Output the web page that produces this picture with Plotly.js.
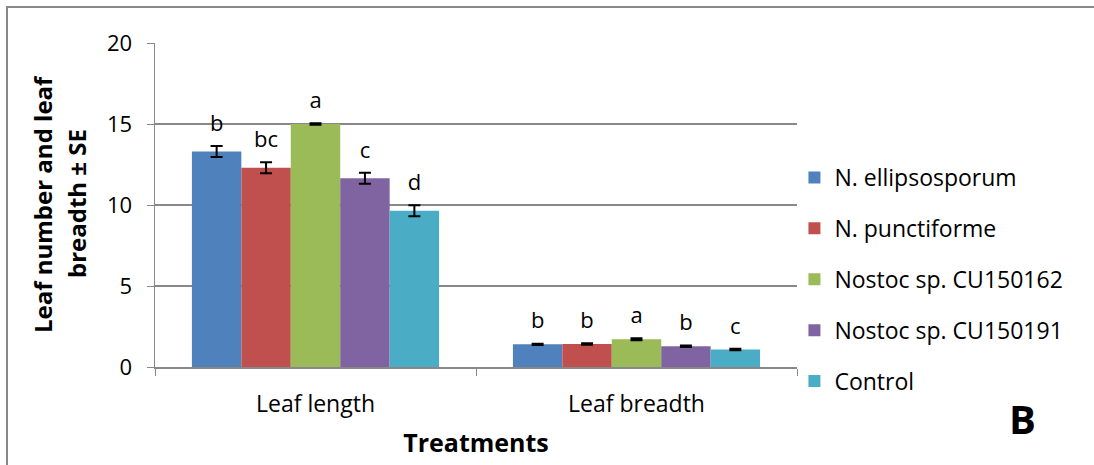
<!DOCTYPE html>
<html>
<head>
<meta charset="utf-8">
<script src="https://cdn.plot.ly/plotly-3.0.1.min.js"></script>
<style>html,body{margin:0;padding:0;background:#fff;}#chart{width:1094px;height:465px;}</style>
</head>
<body>
<div id="chart"></div>
<script>
const categories = ["Leaf length", "Leaf breadth"];
const seriesNames = ["N. ellipsosporum", "N. punctiforme", "Nostoc sp. CU150162", "Nostoc sp. CU150191", "Control"];
const ellipsosporum = [13.3, 1.40];
const punctiforme = [12.3, 1.42];
const cu150162 = [15.0, 1.71];
const cu150191 = [11.65, 1.28];
const control = [9.65, 1.08];
const seEllipsosporum = [0.34, 0.04];
const sePunctiforme = [0.34, 0.04];
const seCu150162 = [0.05, 0.06];
const seCu150191 = [0.34, 0.04];
const seControl = [0.34, 0.04];
const lettersEllipsosporum = ["b", "b"];
const lettersPunctiforme = ["bc", "b"];
const lettersCu150162 = ["a", "a"];
const lettersCu150191 = ["c", "b"];
const lettersControl = ["d", "c"];
const yTitleLines = ["Leaf number and leaf", "breadth ± SE"];
const colors = ["#4f81bd", "#c0504d", "#9bbb59", "#8064a2", "#4bacc6"];

const values = [ellipsosporum, punctiforme, cu150162, cu150191, control];
const ses = [seEllipsosporum, sePunctiforme, seCu150162, seCu150191, seControl];
const letters = [lettersEllipsosporum, lettersPunctiforme, lettersCu150162, lettersCu150191, lettersControl];

const FONT = "Open Sans, Noto Sans, sans-serif";
const traces = [];
values.forEach((v, i) => {
  traces.push({
    type: "bar", name: seriesNames[i], x: categories, y: v,
    offsetgroup: String(i), legendgroup: String(i),
    marker: {color: colors[i]},
    error_y: {type: "data", array: ses[i], visible: true, color: "#000", thickness: 2, width: 6},
    hoverinfo: "none"
  });
});
values.forEach((v, i) => {
  traces.push({
    type: "scatter", mode: "markers+text", x: categories,
    y: v.map((val, j) => val + ses[i][j]),
    text: letters[i], textposition: "top center",
    marker: {size: 14, opacity: 0},
    textfont: {family: FONT, size: 22, color: "#000"},
    offsetgroup: String(i), showlegend: false, hoverinfo: "none",
    cliponaxis: false
  });
});

const W = 642, H = 324, L = 155, T = 43;
const layout = {
  width: 1094, height: 465,
  margin: {l: L, r: 297, t: T, b: 98},
  paper_bgcolor: "#fff", plot_bgcolor: "#fff",
  barmode: "group", scattermode: "group", bargap: 0.23, bargroupgap: 0,
  font: {family: FONT, size: 22, color: "#000"},
  xaxis: {
    type: "category", showgrid: false, showline: true, linecolor: "#888", linewidth: 1.5,
    ticks: "outside", tickson: "boundaries", ticklen: 7, tickcolor: "#888",
    tickfont: {family: FONT, size: 23}, ticklabelstandoff: 16,
    title: {text: "Treatments", font: {family: FONT, size: 25, weight: "bold"}, standoff: 16}
  },
  yaxis: {
    range: [0, 20], tickvals: [0, 5, 10, 15, 20], showgrid: true, gridcolor: "#888", gridwidth: 1.5,
    showline: true, linecolor: "#888", linewidth: 1.5, ticks: "outside", ticklen: 7, tickcolor: "#888",
    tickfont: {family: FONT, size: 22}, zeroline: false, ticklabelstandoff: 10
  },
  legend: {
    x: 0.996, y: 0.27, xanchor: "left", yanchor: "middle",
    font: {family: FONT, size: 23}, tracegroupgap: 18, traceorder: "grouped",
    itemwidth: 30, bgcolor: "rgba(0,0,0,0)"
  },
  shapes: [{
    type: "rect", xref: "paper", yref: "paper",
    x0: (7 - L) / W, x1: (1110 - L) / W, y0: (T + H - 480) / H, y1: (T + H - 7) / H,
    line: {color: "#888", width: 2}, fillcolor: "rgba(0,0,0,0)", layer: "below"
  }],
  annotations: [
    {
      xref: "paper", yref: "paper", x: (42 - L) / W, y: (T + H - 204) / H,
      text: "<b>" + yTitleLines[0] + "</b>", textangle: -90, showarrow: false,
      font: {family: FONT, size: 24, color: "#000"}, xanchor: "center", yanchor: "middle"
    },
    {
      xref: "paper", yref: "paper", x: (76 - L) / W, y: (T + H - 204) / H,
      text: "<b>" + yTitleLines[1] + "</b>", textangle: -90, showarrow: false,
      font: {family: FONT, size: 24, color: "#000"}, xanchor: "center", yanchor: "middle"
    },
    {
      xref: "paper", yref: "paper", x: (1022 - L) / W, y: (T + H - 418) / H,
      text: "<b>B</b>", showarrow: false, font: {family: FONT, size: 40, color: "#000"},
      xanchor: "center", yanchor: "middle"
    }
  ]
};
Plotly.newPlot("chart", traces, layout, {staticPlot: true});
</script>
</body>
</html>
